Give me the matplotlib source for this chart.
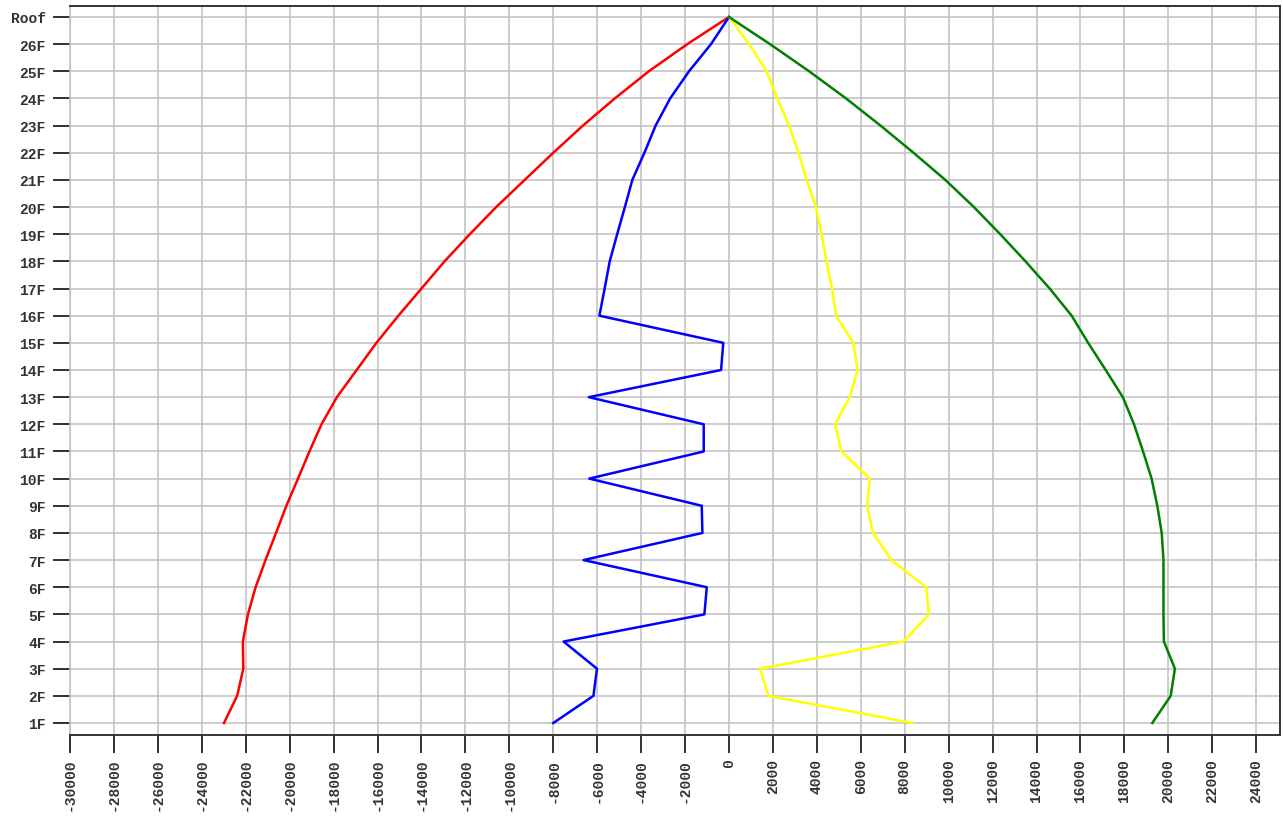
import matplotlib
matplotlib.use('Agg')
import matplotlib.pyplot as plt

# floors from bottom to top
floors = ['1F', '2F', '3F', '4F', '5F', '6F', '7F', '8F', '9F', '10F',
          '11F', '12F', '13F', '14F', '15F', '16F', '17F', '18F', '19F', '20F',
          '21F', '22F', '23F', '24F', '25F', '26F', 'Roof']

red = [-22990, -22390, -22110, -22130, -21900, -21550, -21100, -20620, -20150, -19620,
       -19100, -18550, -17850, -16950, -16050, -15050, -14000, -12950, -11800, -10600,
       -9300, -8000, -6650, -5200, -3650, -1900, 0]
blue = [-8000, -6170, -6010, -7530, -1120, -1010, -6620, -1210, -1240, -6360,
        -1150, -1150, -6380, -360, -260, -5900, -5660, -5430, -5090, -4740,
        -4400, -3850, -3340, -2680, -1820, -820, 0]
yellow = [8350, 1790, 1410, 7950, 9100, 8980, 7390, 6560, 6290, 6410,
          5120, 4830, 5500, 5850, 5660, 4880, 4690, 4440, 4220, 3960,
          3540, 3160, 2740, 2200, 1710, 920, 0]
green = [19270, 20110, 20300, 19800, 19780, 19780, 19780, 19700, 19500, 19240,
         18850, 18440, 17930, 17150, 16350, 15600, 14600, 13500, 12350, 11150,
         9850, 8400, 6900, 5330, 3650, 1870, 0]

xticks = list(range(-30000, 25000, 2000))

y = list(range(1, len(floors) + 1))

fig = plt.figure(figsize=(12.83, 8.20), dpi=100)
ax = fig.add_axes([70 / 1283, 1 - 736 / 820, 1210 / 1283, 729 / 820])

ax.plot(red, y, color='#ff0000', lw=1.8)
ax.plot(blue, y, color='#0000ff', lw=1.8)
ax.plot(yellow, y, color='#ffff00', lw=1.8)
ax.plot(green, y, color='#008000', lw=1.8)

ax.set_xlim(-30000, 25085)
ax.set_ylim(0.558, 27.405)
ax.set_xticks(xticks)
ax.set_xticklabels([str(t) for t in xticks], rotation=90)
ax.set_yticks(y)
ax.set_yticklabels(floors)

ax.grid(True, color='#c0c0c0', lw=1.1)
ax.set_axisbelow(True)

for lab in ax.get_xticklabels() + ax.get_yticklabels():
    lab.set_fontfamily('Liberation Mono')
    lab.set_fontweight('bold')
    lab.set_fontsize(10.5)
    lab.set_color('#333333')

ax.tick_params(axis='x', length=13, width=1.3, pad=3.5, colors='#222222', labelcolor='#333333')
ax.tick_params(axis='y', length=12.5, width=1.3, pad=5, colors='#222222', labelcolor='#333333')

ax.spines['left'].set_color('#c0c0c0')
ax.spines['left'].set_linewidth(1.1)
for s in ['top', 'right', 'bottom']:
    ax.spines[s].set_color('#333333')
    ax.spines[s].set_linewidth(1.4)

fig.savefig('out.png', dpi=100)
